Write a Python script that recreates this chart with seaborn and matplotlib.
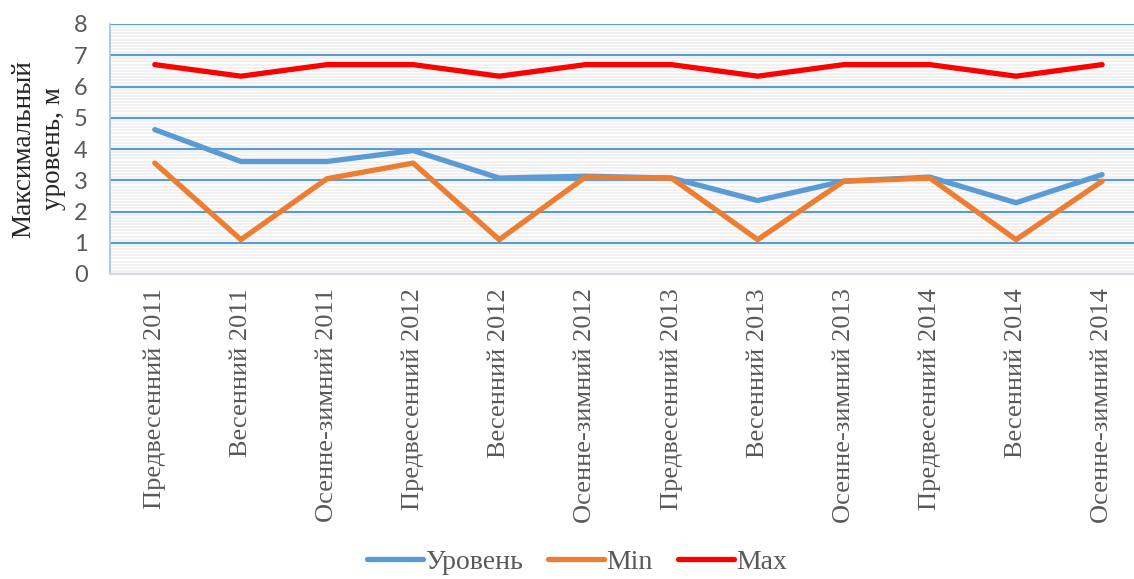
import numpy as np
import pandas as pd
import matplotlib
matplotlib.use("Agg")
import matplotlib.pyplot as plt
import seaborn as sns
from matplotlib.ticker import MultipleLocator

periods = ['Предвесенний 2011', 'Весенний 2011', 'Осенне-зимний 2011',
           'Предвесенний 2012', 'Весенний 2012', 'Осенне-зимний 2012',
           'Предвесенний 2013', 'Весенний 2013', 'Осенне-зимний 2013',
           'Предвесенний 2014', 'Весенний 2014', 'Осенне-зимний 2014']
level = [4.62, 3.6, 3.6, 3.95, 3.07, 3.13, 3.07, 2.35, 2.97, 3.1, 2.28, 3.18]
min_level = [3.55, 1.1, 3.05, 3.55, 1.1, 3.1, 3.07, 1.1, 2.97, 3.07, 1.1, 2.97]
max_level = [6.7, 6.33, 6.7, 6.7, 6.33, 6.7, 6.7, 6.33, 6.7, 6.7, 6.33, 6.7]
series_names = ['Уровень', 'Min', 'Max']
colors = ['#5B9BD5', '#ED7D31', '#FF0000']

df = pd.DataFrame({
    'period': periods * 3,
    'value': level + min_level + max_level,
    'series': np.repeat(series_names, len(periods)),
})

sns.set_style("white")
plt.rcParams['font.family'] = ['Liberation Serif', 'DejaVu Serif']

fig = plt.figure(figsize=(11.34, 5.79), dpi=100)
ax = fig.add_axes([110 / 1134, 1 - 274 / 579, 1024 / 1134, 250 / 579])

sns.lineplot(data=df, x='period', y='value', hue='series', palette=colors,
             linewidth=3.8, ax=ax, legend=False, sort=False, zorder=3)

ax.set_ylim(0, 8)
ax.set_xlim(-0.52, 11.37)
ax.yaxis.set_major_locator(MultipleLocator(1))
ax.yaxis.set_minor_locator(MultipleLocator(0.1))
ax.grid(True, which='major', axis='y', color='#5B9BD5', linewidth=1.6, zorder=1)
ax.grid(True, which='minor', axis='y', color='#ededed', linewidth=1.1, zorder=0)
ax.grid(False, axis='x')

for s in ['top', 'right']:
    ax.spines[s].set_visible(False)
ax.spines['left'].set_color('#9dc3e6')
ax.spines['left'].set_linewidth(1.2)
ax.spines['bottom'].set_color('#d9d9d9')
ax.spines['bottom'].set_linewidth(1.5)

ax.tick_params(axis='both', which='both', length=0, colors='#595959')
ax.tick_params(axis='x', pad=10, labelsize=19)
ax.tick_params(axis='y', pad=16, labelsize=17)
plt.setp(ax.get_xticklabels(), rotation=90)
plt.setp(ax.get_yticklabels(), family=['Lato', 'DejaVu Sans'])
ax.set_xlabel('')
ax.set_ylabel('Максимальный\nуровень, м', fontsize=19.5, color='#262626', labelpad=6)

handles = [plt.Line2D([], [], color=c, linewidth=3.8, solid_capstyle='round') for c in colors]
fig.legend(handles, series_names, loc='lower center', bbox_to_anchor=(0.509, -0.036),
           ncol=3, frameon=False, fontsize=20, handlelength=2.0, handletextpad=0.1,
           columnspacing=0.9, labelcolor='#595959')

fig.savefig('out.png', dpi=100)
